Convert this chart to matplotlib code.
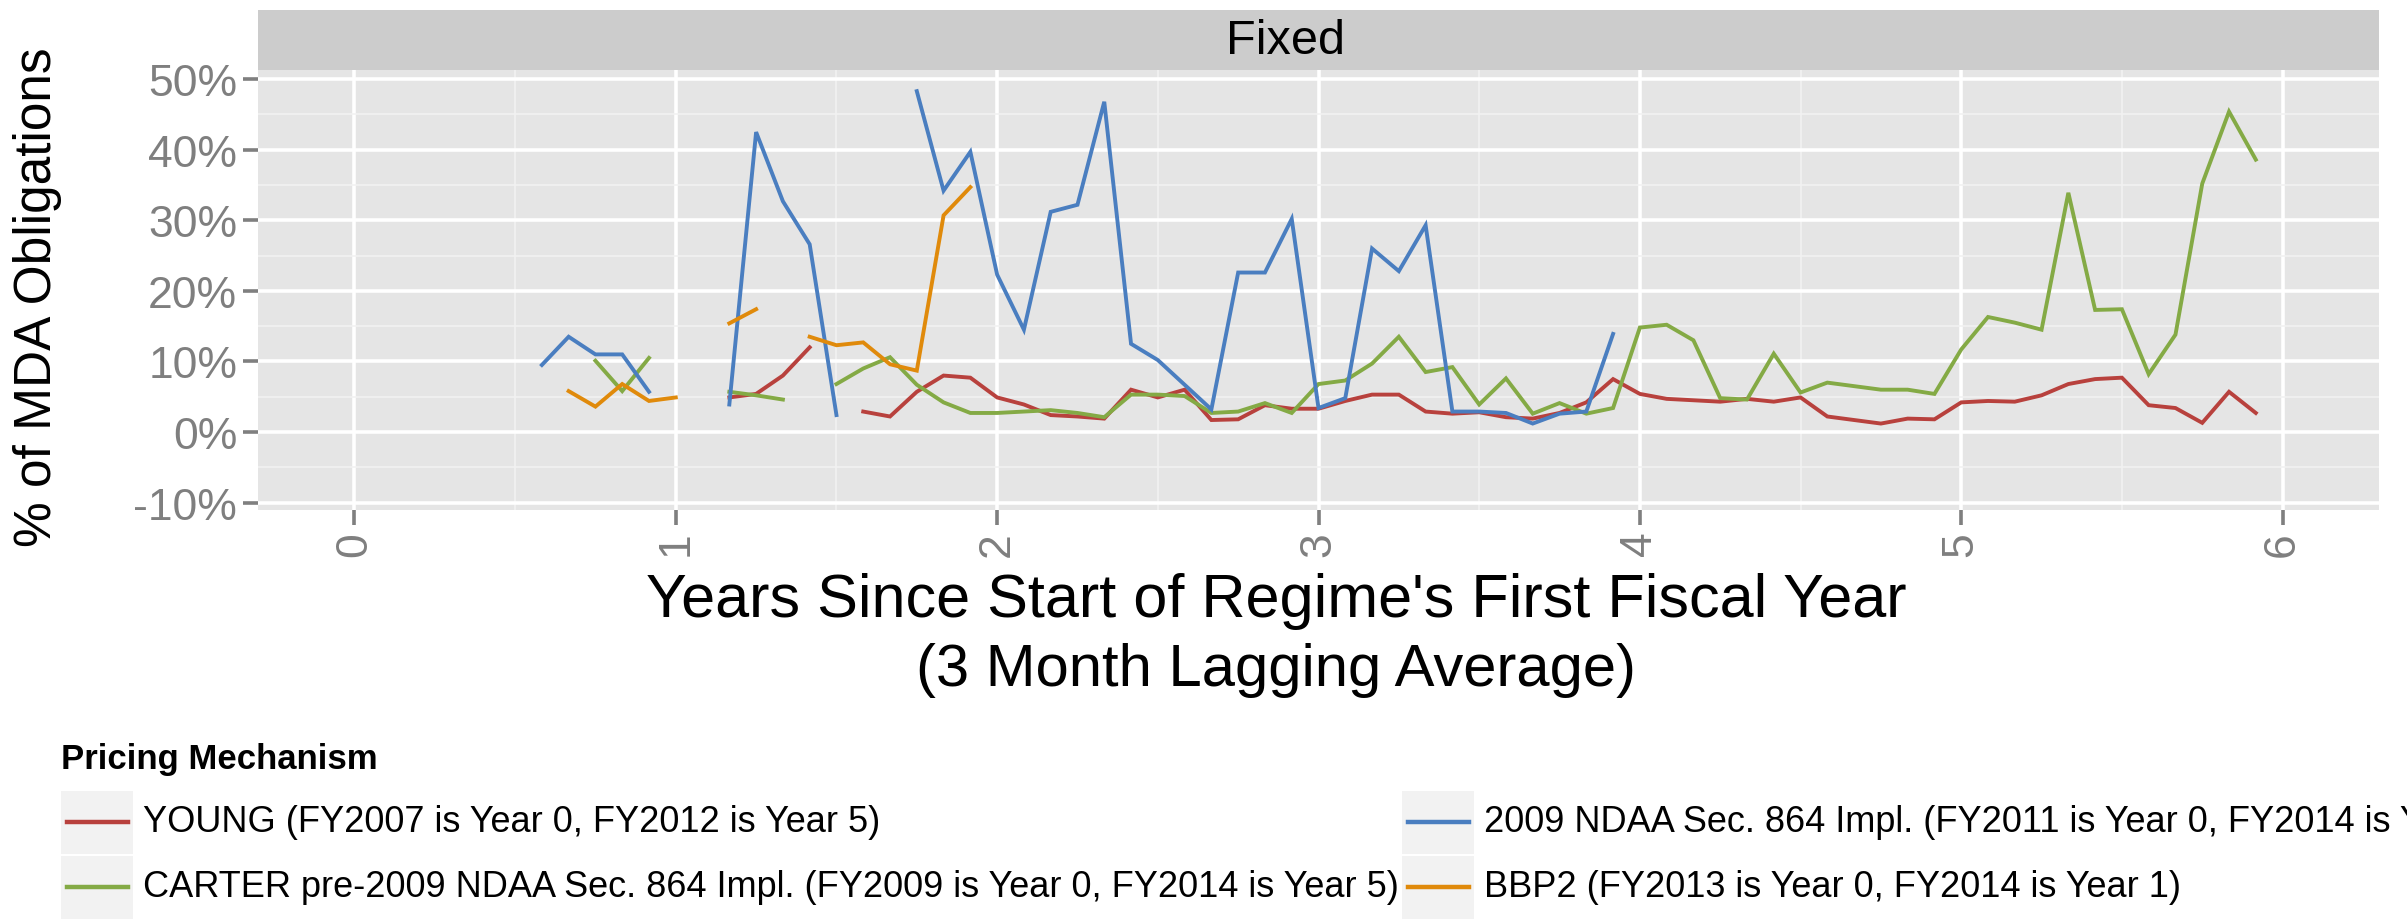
import numpy as np
import matplotlib.pyplot as plt
from matplotlib.lines import Line2D
from matplotlib.patches import Rectangle
from matplotlib.ticker import MultipleLocator, FuncFormatter

plt.rcParams['font.family'] = ['Liberation Sans', 'DejaVu Sans']

# monthly values (% of MDA obligations), first value is at month `*_start`; None = no data
young_start = 14
young_pct = [4.9, 5.4, 8.0, 12.0, None, 2.9, 2.2, 5.7, 8.0, 7.7, 4.9, 3.9, 2.4, 2.2, 1.9,
             6.0, 4.9, 6.0, 1.7, 1.8, 3.8, 3.3, 3.3, 4.4, 5.3, 5.3, 2.9, 2.6, 2.8, 2.1,
             1.9, 2.7, 4.2, 7.5, 5.4, 4.7, 4.5, 4.3, 4.7, 4.3, 4.9, 2.2, 1.7, 1.2, 1.9,
             1.8, 4.2, 4.4, 4.3, 5.2, 6.8, 7.5, 7.7, 3.8, 3.4, 1.3, 5.7, 2.7]

carter_start = 9
carter_pct = [10.1, 5.8, 10.5, None, None, 5.7, 5.2, 4.6, None, 6.8, 9.0, 10.6, 6.7, 4.2,
              2.7, 2.7, 2.9, 3.1, 2.7, 2.1, 5.3, 5.3, 5.1, 2.7, 2.9, 4.1, 2.7, 6.8, 7.3,
              9.7, 13.5, 8.5, 9.2, 3.9, 7.6, 2.6, 4.1, 2.6, 3.4, 14.8, 15.2, 13.0, 4.8,
              4.6, 11.1, 5.6, 7.0, 6.5, 6.0, 6.0, 5.4, 11.7, 16.3, 15.5, 14.5, 33.9, 17.3,
              17.4, 8.2, 13.8, 35.2, 45.4, 38.6]

ndaa_start = 7
ndaa_pct = [9.5, 13.5, 11.0, 11.0, 5.7, None, None, 3.9, 42.5, 32.7, 26.6, 2.4, None, None,
            48.3, 34.2, 39.7, 22.3, 14.5, 31.2, 32.2, 46.8, 12.5, 10.2, 6.7, 3.2, 22.6,
            22.6, 30.2, 3.4, 4.8, 26.0, 22.8, 29.3, 2.9, 2.9, 2.7, 1.2, 2.6, 2.9, 13.9]

bbp2_start = 8
bbp2_pct = [5.8, 3.6, 6.8, 4.4, 4.9, None, 15.4, 17.4, None, 13.5, 12.3, 12.7, 9.6, 8.7,
            30.7, 34.7]

labels = ["YOUNG (FY2007 is Year 0, FY2012 is Year 5)",
          "CARTER pre-2009 NDAA Sec. 864 Impl. (FY2009 is Year 0, FY2014 is Year 5)",
          "2009 NDAA Sec. 864 Impl. (FY2011 is Year 0, FY2014 is Year 3)",
          "BBP2 (FY2013 is Year 0, FY2014 is Year 1)"]
colors = ["#B8413D", "#84AA45", "#4A7EC0", "#E08A0B"]
series = [(young_start, young_pct), (carter_start, carter_pct),
          (ndaa_start, ndaa_pct), (bbp2_start, bbp2_pct)]


def to_xy(start, vals):
    y = np.array([np.nan if v is None else v for v in vals], dtype=float)
    x = (start + np.arange(len(y))) / 12.0
    return x, y


W, H = 2407, 920
fig = plt.figure(figsize=(W / 100, H / 100), dpi=100)

# panel
pl, pr, pt, pb = 258, 2379, 71, 511
ax = fig.add_axes([pl / W, 1 - pb / H, (pr - pl) / W, (pb - pt) / H])
ax.set_facecolor("#E5E5E5")
for s in ax.spines.values():
    s.set_visible(False)

for (start, vals), c in zip(series, colors):
    x, y = to_xy(start, vals)
    ax.plot(x, y, color=c, lw=2.8, solid_joinstyle='miter')

ax.set_xlim(-0.3, 6.3)
ax.set_ylim(-11.05, 51.3)
ax.xaxis.set_major_locator(MultipleLocator(1))
ax.xaxis.set_minor_locator(MultipleLocator(0.5))
ax.yaxis.set_major_locator(MultipleLocator(10))
ax.yaxis.set_minor_locator(MultipleLocator(5))
ax.yaxis.set_major_formatter(FuncFormatter(lambda v, p: "%d%%" % round(v)))
ax.grid(which='major', color='white', lw=2.6)
ax.grid(which='minor', color='#F2F2F2', lw=1.2)
ax.set_axisbelow(True)
ax.tick_params(which='major', length=11, width=2.6, color='#7F7F7F',
               labelsize=32, labelcolor='#7F7F7F', pad=4)
ax.tick_params(which='minor', length=0)
ax.tick_params(axis='x', labelrotation=90)

# facet strip
st = fig.add_axes([pl / W, 1 - pt / H, (pr - pl) / W, 60 / H])
st.set_facecolor("#CCCCCC")
st.set_xticks([])
st.set_yticks([])
for s in st.spines.values():
    s.set_visible(False)
fig.text(1286 / W, 1 - 41 / H, "Fixed", ha='center', va='center', fontsize=35)

# axis titles
fig.text(38 / W, 1 - 297 / H, "% of MDA Obligations", rotation=90,
         ha='center', va='center', fontsize=37)
fig.text(1276 / W, 1 - 602 / H, "Years Since Start of Regime's First Fiscal Year",
         ha='center', va='center', fontsize=44)
fig.text(1276 / W, 1 - 671 / H, "(3 Month Lagging Average)",
         ha='center', va='center', fontsize=43)

# legend
fig.text(61 / W, 1 - 760 / H, "Pricing Mechanism", ha='left', va='center',
         fontsize=25, fontweight='bold')
key_pos = [(61, 823), (61, 888), (1402, 823), (1402, 888)]
for (kx, ky), lab, c in zip(key_pos, labels, colors):
    fig.patches.append(Rectangle((kx / W, 1 - (ky + 32) / H), 72 / W, 63 / H,
                                 transform=fig.transFigure, facecolor='#F2F2F2',
                                 edgecolor='none'))
    fig.lines.append(Line2D([(kx + 6) / W, (kx + 67) / W], [1 - ky / H, 1 - ky / H],
                            transform=fig.transFigure, color=c, lw=3.2))
    fig.text((kx + 82) / W, 1 - ky / H, lab, ha='left', va='center', fontsize=26)

fig.savefig("out.png", dpi=100)
